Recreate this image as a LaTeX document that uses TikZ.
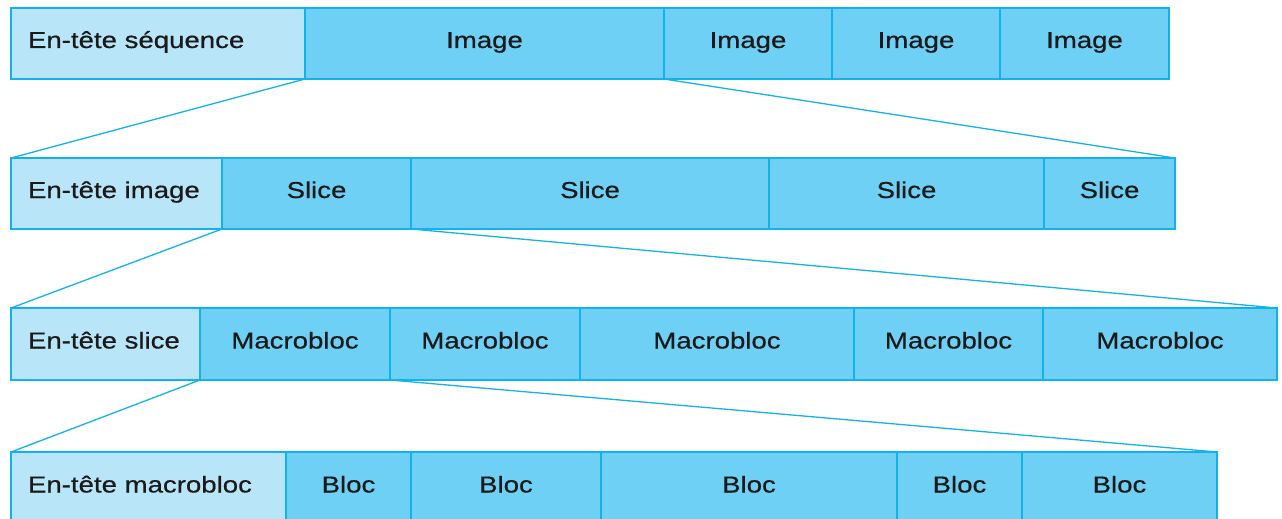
\documentclass[tikz,border=0pt]{standalone}
\usepackage{fontspec}
\setmainfont[FakeStretch=1.2,FakeBold=0.6]{Liberation Sans}
\definecolor{hdrfill}{RGB}{185,229,249}
\definecolor{cellfill}{RGB}{111,208,245}
\definecolor{edge}{RGB}{20,178,236}
\definecolor{ink}{RGB}{26,26,26}
\tikzset{
  cell/.style={draw=edge, line width=1.8pt, fill=cellfill, inner sep=0pt,
    outer sep=0pt, anchor=north west, text=ink, text height=15pt, text depth=6pt,
    font=\fontsize{23}{27}\selectfont},
  hdr/.style={cell, fill=hdrfill, inner xsep=17pt, align=left},
  link/.style={draw=edge, line width=1.3pt}
}
\begin{document}
\begin{tikzpicture}[x=1pt, y=-1pt]
\useasboundingbox (0,0) rectangle (1282,519);
\clip (0,0) rectangle (1282,519);
% sequence level
\node[hdr, minimum height=71pt, minimum width=294pt, text width=260pt] (s0) at (11,8) {En-tête séquence};
\node[cell, minimum height=71pt, minimum width=359pt] (s1) at (305,8) {Image};
\node[cell, minimum height=71pt, minimum width=168pt] (s2) at (664,8) {Image};
\node[cell, minimum height=71pt, minimum width=168pt] (s3) at (832,8) {Image};
\node[cell, minimum height=71pt, minimum width=169pt] (s4) at (1000,8) {Image};
% image level
\node[hdr, minimum height=71pt, minimum width=211pt, text width=177pt] (i0) at (11,158) {En-tête image};
\node[cell, minimum height=71pt, minimum width=189pt] (i1) at (222,158) {Slice};
\node[cell, minimum height=71pt, minimum width=358pt] (i2) at (411,158) {Slice};
\node[cell, minimum height=71pt, minimum width=275pt] (i3) at (769,158) {Slice};
\node[cell, minimum height=71pt, minimum width=131pt] (i4) at (1044,158) {Slice};
% slice level
\node[hdr, minimum height=72pt, minimum width=189pt, text width=155pt] (l0) at (11,308) {En-tête slice};
\node[cell, minimum height=72pt, minimum width=190pt] (l1) at (200,308) {Macrobloc};
\node[cell, minimum height=72pt, minimum width=190pt] (l2) at (390,308) {Macrobloc};
\node[cell, minimum height=72pt, minimum width=274pt] (l3) at (580,308) {Macrobloc};
\node[cell, minimum height=72pt, minimum width=189pt] (l4) at (854,308) {Macrobloc};
\node[cell, minimum height=72pt, minimum width=234pt] (l5) at (1043,308) {Macrobloc};
% macroblock level
\node[hdr, minimum height=72pt, minimum width=275pt, text width=241pt] (m0) at (11,452) {En-tête macrobloc};
\node[cell, minimum height=72pt, minimum width=125pt] (m1) at (286,452) {Bloc};
\node[cell, minimum height=72pt, minimum width=190pt] (m2) at (411,452) {Bloc};
\node[cell, minimum height=72pt, minimum width=296pt] (m3) at (601,452) {Bloc};
\node[cell, minimum height=72pt, minimum width=125pt] (m4) at (897,452) {Bloc};
\node[cell, minimum height=72pt, minimum width=195pt] (m5) at (1022,452) {Bloc};
% zoom-in lines between levels
\draw[link] (s1.south west) -- (i0.north west);
\draw[link] (s1.south east) -- (i4.north east);
\draw[link] (i1.south west) -- (l0.north west);
\draw[link] (i1.south east) -- (l5.north east);
\draw[link] (l1.south west) -- (m0.north west);
\draw[link] (l1.south east) -- (m5.north east);
\end{tikzpicture}
\end{document}
